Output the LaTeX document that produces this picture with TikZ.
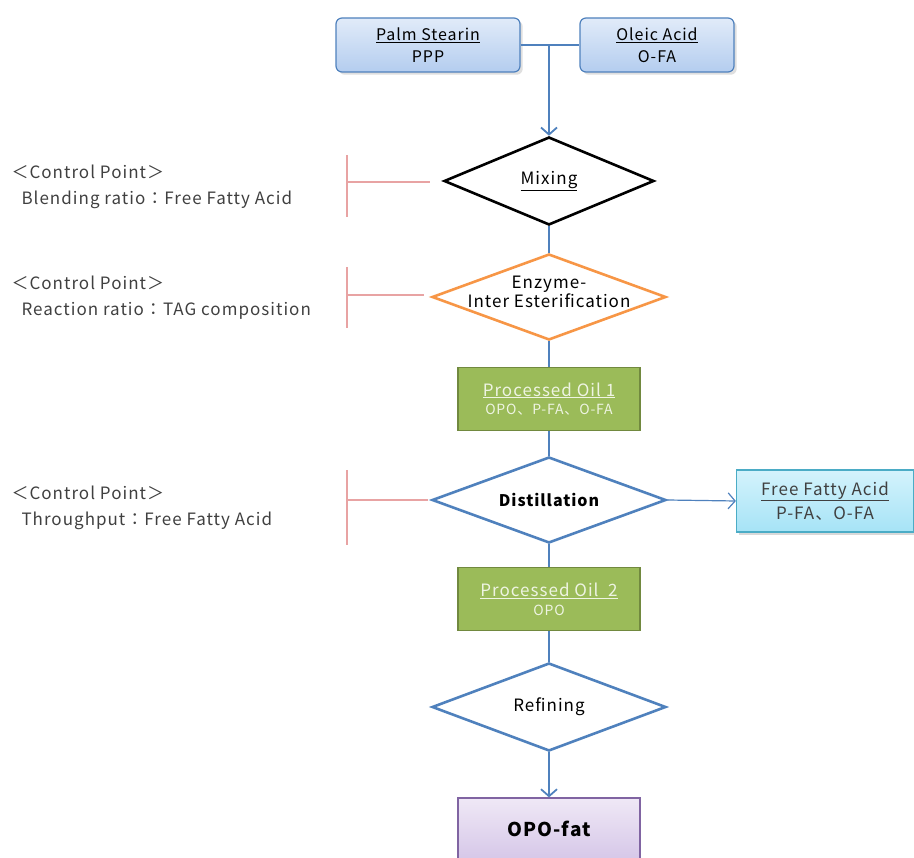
\documentclass[tikz,border=0pt]{standalone}
\usepackage{fontspec}
\setmainfont{Noto Sans CJK JP}[LetterSpace=6]
\usetikzlibrary{shapes.geometric,arrows.meta,shadows}

\definecolor{flowblue}{HTML}{4F81BD}
\definecolor{boxblueA}{HTML}{E1EBF9}
\definecolor{boxblueB}{HTML}{B4CDEF}
\definecolor{mixorange}{HTML}{F79646}
\definecolor{oilgreen}{HTML}{9BBB59}
\definecolor{oilgreenD}{HTML}{71893F}
\definecolor{oiltext}{HTML}{EEF4E2}
\definecolor{ffacyanA}{HTML}{D4F3FC}
\definecolor{ffacyanB}{HTML}{A6E3F6}
\definecolor{ffaborder}{HTML}{4BACC6}
\definecolor{opoA}{HTML}{EFE8F6}
\definecolor{opoB}{HTML}{D6C7E8}
\definecolor{opoborder}{HTML}{8064A2}
\definecolor{cpred}{HTML}{E8A3A3}
\definecolor{cptext}{HTML}{404040}

\tikzset{
  flow/.style={draw=flowblue, line width=1.8pt},
  rawbox/.style={rectangle, rounded corners=6pt, draw=flowblue, line width=1.2pt,
    top color=boxblueA, bottom color=boxblueB, minimum width=184pt, minimum height=54pt,
    align=center, font=\fontsize{16}{22}\selectfont, drop shadow={opacity=0.25}},
  stepdiamond/.style={diamond, aspect=2.7, draw, line width=2.6pt, fill=white, inner sep=0pt,
    minimum width=234pt, minimum height=86pt, align=center, font=\fontsize{17}{18}\selectfont},
  oilbox/.style={rectangle, draw=oilgreenD, line width=1.2pt, fill=oilgreen,
    minimum width=182pt, minimum height=63pt, align=center, text=oiltext},
  cpnote/.style={anchor=west, align=left, text=cptext, font=\fontsize{17}{26}\selectfont},
  cpline/.style={draw=cpred, line width=1.1pt}
}

\begin{document}
\begin{tikzpicture}[x=1pt, y=-1pt]
		\useasboundingbox (0,0) rectangle (914,858);

		% Raw materials
		\node[rawbox] (ps) at (428,45) {\underline{Palm Stearin}\\PPP};
		\node[rawbox, minimum width=154pt] (oa) at (657,45) {\underline{Oleic Acid}\\O-FA};

		% Process steps
		\node[stepdiamond, draw=black, minimum width=210pt, minimum height=88pt] (mix) at (549,181) {\underline{Mixing}};
		\node[stepdiamond, draw=mixorange,
			label={[align=center, font=\fontsize{17}{19}\selectfont, yshift=5pt]center:Enzyme-\\Inter Esterification}] (enz) at (549,297) {};
		\node[oilbox] (oil1) at (549,399) {{\fontsize{17}{22}\selectfont\underline{Processed Oil 1}}\\[5pt]{\fontsize{14}{18}\selectfont OPO、P-FA、O-FA}};
		\node[stepdiamond, draw=flowblue, font=\fontsize{16}{18}\selectfont\bfseries] (dist) at (549,500) {Distillation};
		\node[rectangle, draw=ffaborder, line width=1.2pt, top color=ffacyanA, bottom color=ffacyanB,
			minimum width=177pt, minimum height=62pt, align=center, text=cptext,
			font=\fontsize{17}{24}\selectfont, drop shadow={opacity=0.3}] (ffa) at (825,501) {\underline{Free Fatty Acid}\\P-FA、O-FA};
		\node[oilbox] (oil2) at (549,599) {{\fontsize{17}{22}\selectfont\underline{Processed Oil\ \ 2}}\\[5pt]{\fontsize{14}{18}\selectfont OPO}};
		\node[stepdiamond, draw=flowblue, minimum height=88pt] (refine) at (549,707) {Refining};
		\node[rectangle, draw=opoborder, line width=1.2pt, top color=opoA, bottom color=opoB,
			minimum width=182pt, minimum height=62pt, font=\fontsize{19}{22}\selectfont\bfseries] (opo) at (549,829) {OPO-fat};

		% Connectors
		\draw[flow] (ps.east) -- (oa.west);
		\draw[flow, -{Straight Barb[length=7pt, width=16pt]}] (ps.east -| mix.north) -- (mix.north);
		\draw[flow] (mix.south) -- (enz.north);
		\draw[flow] (enz.south) -- (oil1.north);
		\draw[flow] (oil1.south) -- (dist.north);
		\draw[flow, line width=1.2pt, -{Straight Barb[length=7pt, width=16pt]}] (dist.east) -- (ffa.west);
		\draw[flow] (dist.south) -- (oil2.north);
		\draw[flow] (oil2.south) -- (refine.north);
		\draw[flow, -{Straight Barb[length=7pt, width=16pt]}] (refine.south) -- (opo.north);

		% Control points
		\node[cpnote] (cp1) at (8,187) {＜Control Point＞\\\hspace*{10pt}Blending ratio：Free Fatty Acid};
		\node[cpnote] (cp2) at (8,298) {＜Control Point＞\\\hspace*{10pt}Reaction ratio：TAG composition};
		\node[cpnote] (cp3) at (8,508) {＜Control Point＞\\\hspace*{10pt}Throughput：Free Fatty Acid};

		\coordinate (t1) at (347,155); \coordinate (m1) at (347,182); \coordinate (b1) at (347,217); \coordinate (e1) at (430,182);
		\coordinate (t2) at (347,267); \coordinate (m2) at (347,295); \coordinate (b2) at (347,328); \coordinate (e2) at (424,295);
		\coordinate (t3) at (347,470); \coordinate (m3) at (347,500); \coordinate (b3) at (347,545); \coordinate (e3) at (428,500);
		\foreach \i in {1,2,3} {
			\draw[cpline] (t\i) -- (b\i);
			\draw[cpline] (m\i) -- (e\i);
		}
	\end{tikzpicture}
\end{document}
